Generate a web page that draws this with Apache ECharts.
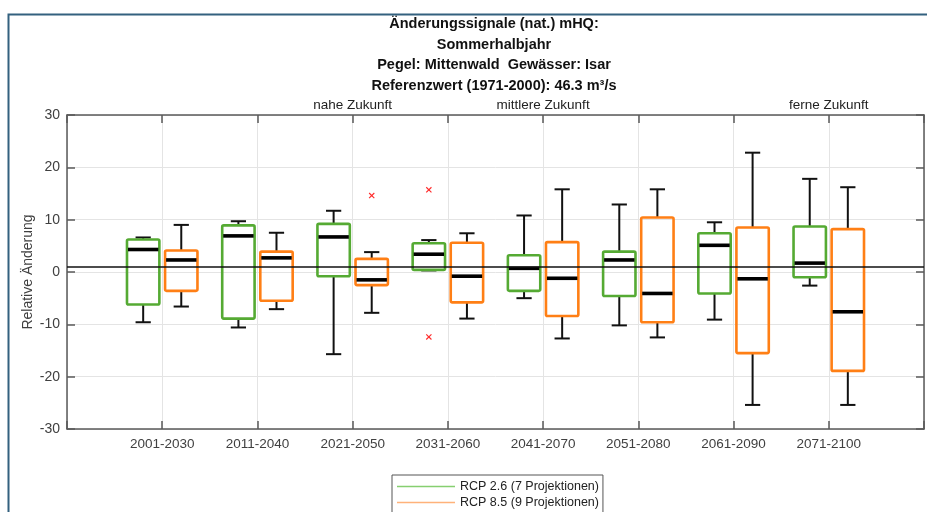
<!DOCTYPE html>
<html><head><meta charset="utf-8">
<script src="https://cdn.jsdelivr.net/npm/echarts@6/dist/echarts.min.js"></script>
<style>html,body{margin:0;padding:0;background:#fff}#c{width:927px;height:512px}</style>
</head><body><div id="c"></div>
<script>
const categories = ['2001-2030','2011-2040','2021-2050','2031-2060','2041-2070','2051-2080','2061-2090','2071-2100'];
const periodLabels = ['', '', 'nahe Zukunft', '', 'mittlere Zukunft', '', '', 'ferne Zukunft'];
const titleLines = ['Änderungssignale (nat.) mHQ:', 'Sommerhalbjahr', 'Pegel: Mittenwald  Gewässer: Isar', 'Referenzwert (1971-2000): 46.3 m³/s'];
const seriesNames = ['RCP 2.6 (7 Projektionen)', 'RCP 8.5 (9 Projektionen)'];
// [lower whisker, q1, median, q3, upper whisker] per category
const rcp26 = [
  [-9.6, -6.2, 4.3, 6.2, 6.6],
  [-10.6, -8.9, 6.9, 8.9, 9.7],
  [-15.7, -0.8, 6.7, 9.2, 11.7],
  [0.3, 0.4, 3.4, 5.5, 6.1],
  [-5.0, -3.6, 0.7, 3.2, 10.8],
  [-10.2, -4.6, 2.3, 3.9, 12.9],
  [-9.1, -4.1, 5.1, 7.4, 9.5],
  [-2.6, -1.0, 1.7, 8.7, 17.8]
];
const rcp85 = [
  [-6.6, -3.6, 2.3, 4.1, 9.0],
  [-7.1, -5.5, 2.7, 3.9, 7.5],
  [-7.8, -2.5, -1.5, 2.5, 3.8],
  [-8.9, -5.8, -0.8, 5.6, 7.4],
  [-12.7, -8.4, -1.2, 5.7, 15.8],
  [-12.5, -9.6, -4.1, 10.4, 15.8],
  [-25.4, -15.5, -1.3, 8.5, 22.8],
  [-25.4, -18.9, -7.6, 8.2, 16.2]
];
// outliers: [category number (1-based), value]
const outliers26 = [[4, 15.7], [4, -12.4]];
const outliers85 = [[3, 14.6]];
const referenceValue = 1;

const GREEN = '#55aa33', ORANGE = '#ff7f15';
const FONT = '"Liberation Sans", Arial, Helvetica, sans-serif';

function boxRender(offsetFrac, color) {
  return function (params, api) {
    const x = api.value(0);
    const unit = api.size([1, 0])[0];
    const cx = api.coord([x, 0])[0] + offsetFrac * unit;
    const y = i => api.coord([x, api.value(i)])[1];
    const lo = y(1), q1 = y(2), med = y(3), q3 = y(4), hi = y(5);
    const bw = 0.34 * unit, cw = 0.16 * unit;
    const wStyle = { stroke: '#111', lineWidth: 2 };
    return { type: 'group', children: [
      { type: 'line', shape: { x1: cx, y1: hi, x2: cx, y2: q3 }, style: wStyle },
      { type: 'line', shape: { x1: cx, y1: q1, x2: cx, y2: lo }, style: wStyle },
      { type: 'line', shape: { x1: cx - cw / 2, y1: hi, x2: cx + cw / 2, y2: hi }, style: wStyle },
      { type: 'line', shape: { x1: cx - cw / 2, y1: lo, x2: cx + cw / 2, y2: lo }, style: wStyle },
      { type: 'rect', shape: { x: cx - bw / 2, y: q3, width: bw, height: q1 - q3, r: 1.5 }, style: { fill: 'none', stroke: color, lineWidth: 2.6 } },
      { type: 'line', shape: { x1: cx - bw / 2 + 1, y1: med, x2: cx + bw / 2 - 1, y2: med }, style: { stroke: '#000', lineWidth: 3.6 } }
    ]};
  };
}
function outlierRender(offsetFrac) {
  return function (params, api) {
    const x = api.value(0);
    const unit = api.size([1, 0])[0];
    const p = api.coord([x, api.value(1)]);
    const cx = p[0] + offsetFrac * unit, cy = p[1], s = 2.6;
    const st = { stroke: '#ff2a2a', lineWidth: 1.1 };
    return { type: 'group', children: [
      { type: 'line', shape: { x1: cx - s, y1: cy - s, x2: cx + s, y2: cy + s }, style: st },
      { type: 'line', shape: { x1: cx - s, y1: cy + s, x2: cx + s, y2: cy - s }, style: st }
    ]};
  };
}
const withIndex = arr => arr.map((d, i) => [i + 1].concat(d));

const axisLineStyle = { color: '#5a5a5a', width: 1.5 };
const chart = echarts.init(document.getElementById('c'), null, { renderer: 'canvas' });
chart.setOption({
  animation: false,
  backgroundColor: '#fff',
  textStyle: { fontFamily: FONT },
  title: {
    text: titleLines.join('\n'),
    left: 494, top: 14, textAlign: 'center', padding: 0,
    textStyle: { fontFamily: FONT, fontWeight: 'bold', fontSize: 14.5, lineHeight: 20.5, color: '#111' }
  },
  graphic: [
    { type: 'rect', left: 6, top: 12, shape: { width: 940, height: 520 }, style: { fill: 'none', stroke: '#33617f', lineWidth: 2 }, silent: true, z: 100 }
  ],
  legend: {
    orient: 'vertical', left: 392, top: 475, height: 60,
    backgroundColor: '#fff', borderColor: '#555', borderWidth: 1,
    padding: [5, 4, 4, 5], itemGap: 3, itemWidth: 58, itemHeight: 1.5,
    icon: 'rect',
    textStyle: { fontFamily: FONT, fontSize: 12.5, color: '#222' },
    data: [
      { name: seriesNames[0], itemStyle: { color: '#86cf70' } },
      { name: seriesNames[1], itemStyle: { color: '#ffb27a' } }
    ]
  },
  grid: { left: 67, right: 1, top: 115, bottom: 83 },
  xAxis: [
    { type: 'value', min: 0, max: 9, interval: 1, position: 'bottom',
      axisLine: { show: true, onZero: false, lineStyle: axisLineStyle },
      axisTick: { show: true, inside: true, length: 8, lineStyle: axisLineStyle },
      axisLabel: { formatter: v => categories[v - 1] || '', fontSize: 13.5, color: '#404040', margin: 8 },
      splitLine: { show: true, lineStyle: { color: '#e4e4e4', width: 1 } } },
    { type: 'value', min: 0, max: 9, interval: 1, position: 'top',
      axisLine: { show: true, onZero: false, lineStyle: axisLineStyle },
      axisTick: { show: true, inside: true, length: 8, lineStyle: axisLineStyle },
      axisLabel: { formatter: v => periodLabels[v - 1] || '', fontSize: 13.5, color: '#222', margin: 3 },
      splitLine: { show: false } }
  ],
  yAxis: [
    { type: 'value', min: -30, max: 30, interval: 10, position: 'left',
      name: 'Relative Änderung', nameLocation: 'middle', nameGap: 32, nameRotate: 90, nameMoveOverlap: false,
      nameTextStyle: { fontSize: 14, color: '#404040', fontFamily: FONT },
      axisLine: { show: true, onZero: false, lineStyle: axisLineStyle },
      axisTick: { show: true, inside: true, length: 8, lineStyle: axisLineStyle },
      axisLabel: { fontSize: 14, color: '#404040', margin: 7 },
      splitLine: { show: true, lineStyle: { color: '#e4e4e4', width: 1 } } },
    { type: 'value', min: -30, max: 30, interval: 10, position: 'right',
      axisLine: { show: true, onZero: false, lineStyle: axisLineStyle },
      axisTick: { show: true, inside: true, length: 8, lineStyle: axisLineStyle },
      axisLabel: { show: false }, splitLine: { show: false } }
  ],
  series: [
    { name: seriesNames[0], type: 'custom', xAxisIndex: 0, yAxisIndex: 0,
      itemStyle: { color: GREEN },
      renderItem: boxRender(-0.2, GREEN), data: withIndex(rcp26), encode: { x: 0, y: [1, 2, 3, 4, 5] }, z: 3,
      markLine: { silent: true, symbol: 'none', label: { show: false },
        lineStyle: { color: '#111', width: 1.6, type: 'solid' }, data: [{ yAxis: referenceValue }] } },
    { name: seriesNames[1], type: 'custom', xAxisIndex: 0, yAxisIndex: 0,
      itemStyle: { color: ORANGE },
      renderItem: boxRender(0.2, ORANGE), data: withIndex(rcp85), encode: { x: 0, y: [1, 2, 3, 4, 5] }, z: 3 },
    { name: 'out26', type: 'custom', renderItem: outlierRender(-0.2), data: outliers26, encode: { x: 0, y: 1 }, z: 4 },
    { name: 'out85', type: 'custom', renderItem: outlierRender(0.2), data: outliers85, encode: { x: 0, y: 1 }, z: 4 }
  ]
});
</script>
</body></html>
